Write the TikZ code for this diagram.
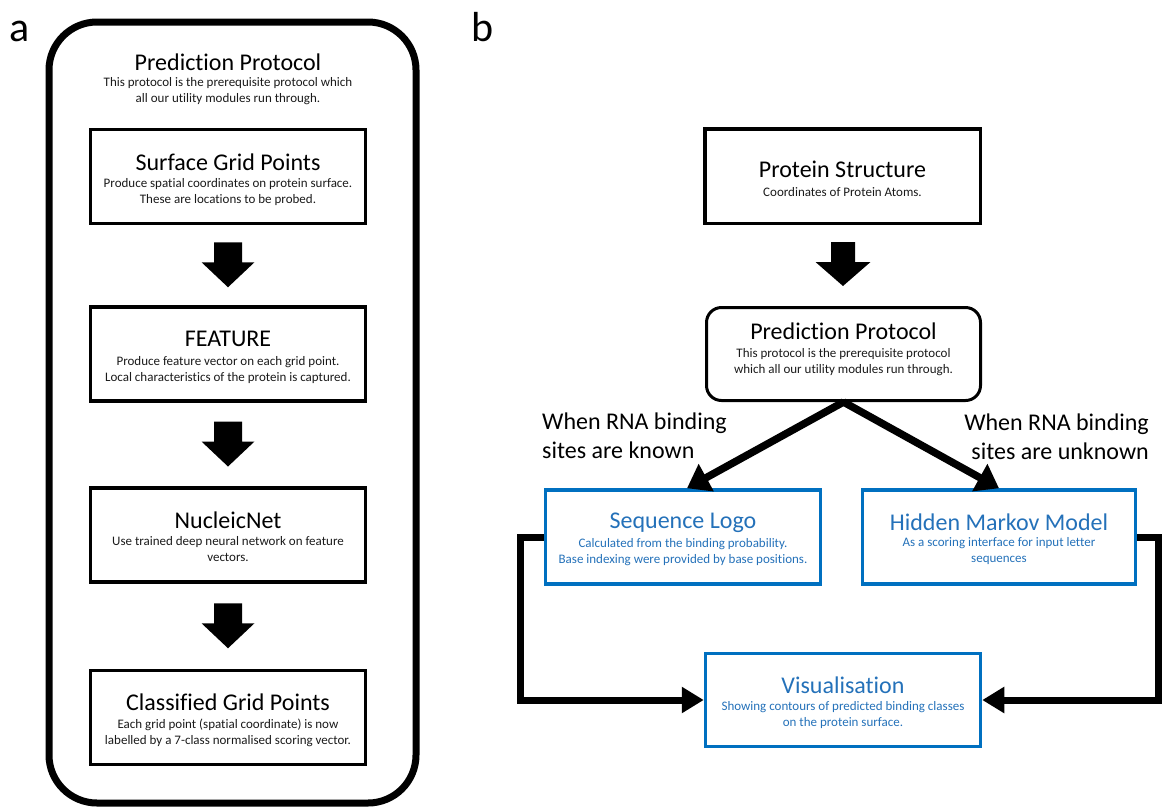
\documentclass[tikz,border=0pt]{standalone}
\usepackage{fontspec}
\setmainfont{Carlito}[Ligatures={NoCommon}]
\usetikzlibrary{arrows.meta,calc}
\definecolor{obl}{HTML}{0070C0}
\definecolor{obt}{HTML}{2471B9}
\definecolor{dgray}{HTML}{1A1A1A}
\begin{document}
\begin{tikzpicture}[x=1pt,y=-1pt,
  ttl/.style={font=\fontsize{24}{28}\selectfont, inner sep=0pt},
  sub/.style={font=\fontsize{13}{16}\selectfont, align=center, inner sep=0pt, text=dgray},
  lbl/.style={font=\fontsize{24}{29}\selectfont, inner sep=0pt},
  panel/.style={font=\fontsize{42}{46}\selectfont, inner sep=0pt, anchor=base west},
  bbox/.style={draw=black, line width=3.5pt, minimum width=275pt, minimum height=94pt, inner sep=0pt},
  rbox/.style={bbox, rounded corners=15pt, line width=3pt},
  blbox/.style={draw=obl, line width=3.5pt, minimum width=275pt, minimum height=94pt, inner sep=0pt},
  conn/.style={line width=7pt, -{Triangle[length=22pt,width=25pt]}},
  diag/.style={line width=7.5pt, -{Triangle[length=22pt,width=30pt]}},
  barrowA/.pic={\fill (-14,-23) -- (14,-23) -- (14,-3) -- (26.5,-3) -- (0,22) -- (-26.5,-3) -- (-14,-3) -- cycle;},
  barrowB/.pic={\fill (-12,-23.5) -- (12,-23.5) -- (12,-3.5) -- (27.5,-3.5) -- (0,20.5) -- (-27.5,-3.5) -- (-12,-3.5) -- cycle;}
]
\useasboundingbox (0,0) rectangle (1162,807);

% ---------------- panel a ----------------
\node[panel] (la) at (9,41) {a};
\node[draw, line width=7pt, rounded corners=48pt, minimum width=367pt, minimum height=781pt, inner sep=0pt] (protoA) at (232.5,412.5) {};
\node[ttl] (protoAt) at (228,62) {Prediction Protocol};
\node[sub] (protoAs) at (228,91.5) {This protocol is the prerequisite protocol which\\all our utility modules run through.};

\node[bbox] (sgp) at (228,176.5) {};
\node[ttl] at (228,162) {Surface Grid Points};
\node[sub] at (228,192) {Produce spatial coordinates on protein surface.\\These are locations to be probed.};

\node[bbox] (feat) at (228,354) {};
\node[ttl] at (228,339) {FEATURE};
\node[sub] at (228,370) {Produce feature vector on each grid point.\\Local characteristics of the protein is captured.};

\node[bbox] (nnet) at (228,535) {};
\node[ttl] at (228,520) {NucleicNet};
\node[sub] at (228,549.5) {Use trained deep neural network on feature\\vectors.};

\node[bbox] (cgp) at (228,717.5) {};
\node[ttl] at (228,702) {Classified Grid Points};
\node[sub] at (228,733) {Each grid point (spatial coordinate) is now\\labelled by a 7-class normalised scoring vector.};

\pic at ($(sgp.south)!0.5!(feat.north)$) {barrowA};
\pic at ($(feat.south)!0.5!(nnet.north)$) {barrowA};
\pic at ($(nnet.south)!0.5!(cgp.north)$) {barrowA};

% ---------------- panel b ----------------
\node[panel] (lb) at (471,41) {b};

\node[bbox, minimum width=275.5pt, minimum height=94.5pt] (ps) at (842.5,176) {};
\node[ttl] at (842.5,169) {Protein Structure};
\node[sub] at (842.5,192) {Coordinates of Protein Atoms.};

\node[rbox, minimum width=274pt, minimum height=93pt] (pp) at (843.5,354) {};
\node[ttl] at (843.5,331) {Prediction Protocol};
\node[sub] at (843.5,362) {This protocol is the prerequisite protocol\\which all our utility modules run through.};

\pic at ($(ps.south)!0.5!(pp.north)$) {barrowB};

\node[blbox] (seq) at (683,537) {};
\node[ttl, text=obt] at (683,523) {Sequence Logo};
\node[sub, text=obt] at (683,552) {Calculated from the binding probability.\\Base indexing were provided by base positions.};

\node[blbox, minimum width=273pt] (hmm) at (999,537) {};
\node[ttl, text=obt] at (999,522) {Hidden Markov Model};
\node[sub, text=obt] at (999,551) {As a scoring interface for input letter\\sequences};

\node[blbox, minimum height=93pt] (vis) at (843,700) {};
\node[ttl, text=obt] at (843,685) {Visualisation};
\node[sub, text=obt] at (843,715) {Showing contours of predicted binding classes\\on the protein surface.};

\node[lbl, anchor=west, align=left] (known) at (542,436) {When RNA binding\\sites are known};
\node[lbl, anchor=east, align=right] (unknown) at (1149,436.5) {When RNA binding\\sites are unknown};

\draw[diag] (pp.south) -- ($(seq.north)+(4,0)$);
\draw[diag] (pp.south) -- (hmm.north);

\draw[conn] (seq.west) -- ++(-23,0) |- (vis.west);
\draw[conn] (hmm.east) -- ++(21,0) |- (vis.east);
\end{tikzpicture}
\end{document}
